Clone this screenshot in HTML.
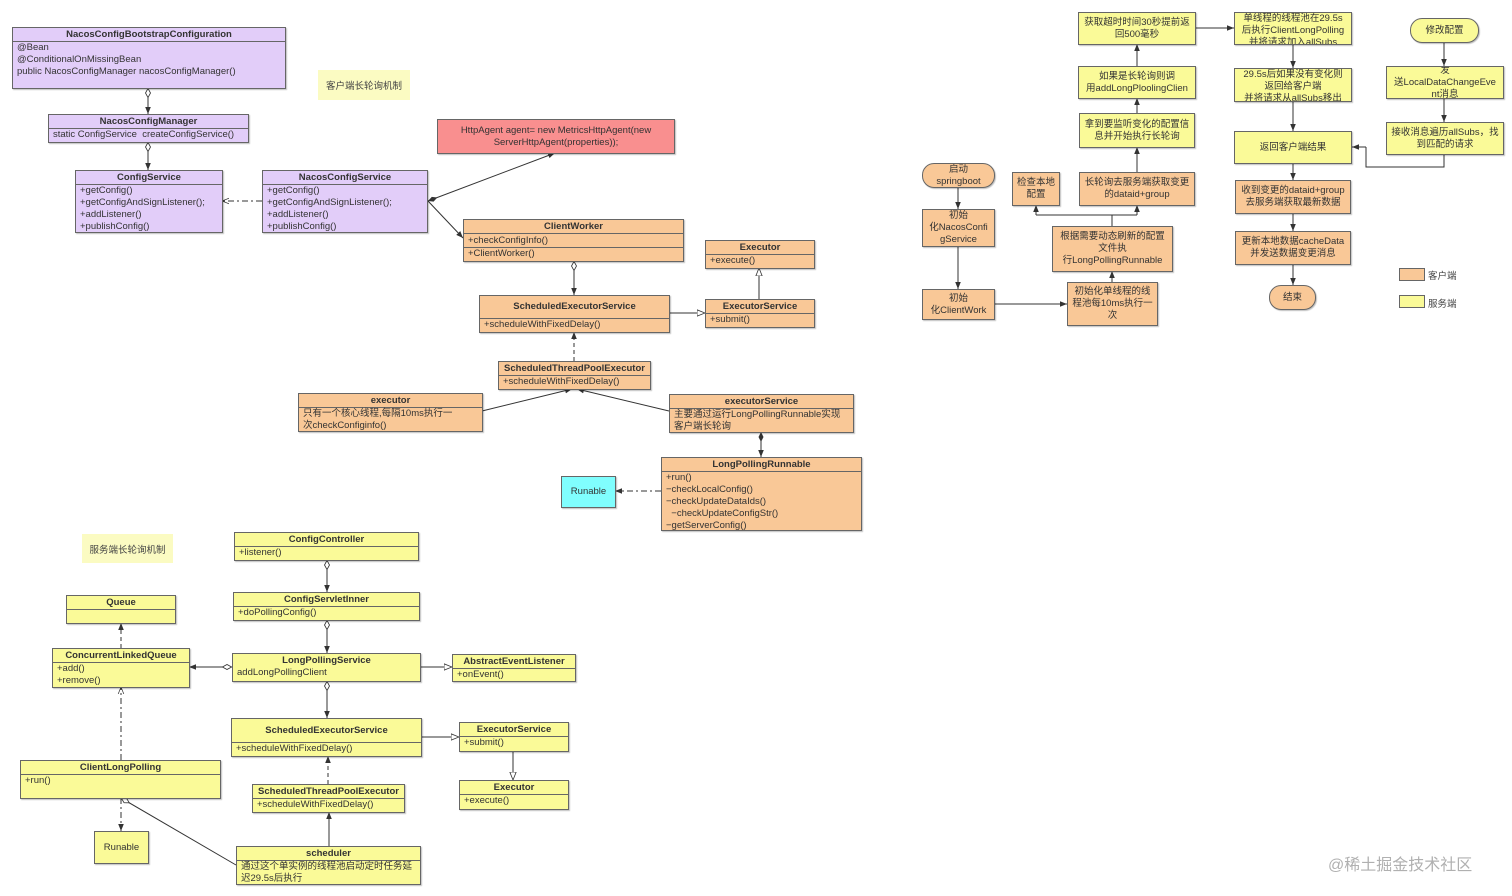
<!DOCTYPE html>
<html><head><meta charset="utf-8"><style>
body{margin:0;width:1512px;height:896px;background:#fff;position:relative;overflow:hidden;font-family:"Liberation Sans","Noto Sans CJK SC",sans-serif}
.b{position:absolute;border:1px solid #666;box-sizing:border-box;font-size:9.5px;color:#333;overflow:hidden;box-shadow:1px 1px 1px rgba(0,0,0,.25)}
.h{text-align:center;font-weight:bold;border-bottom:1px solid #666;height:13px;line-height:13px;white-space:nowrap}
.r{padding-left:4px;line-height:12px;white-space:nowrap}
.p{background:#e2cdf9}.o{background:#f9c897}.y{background:#fafa98}
.f{position:absolute;border:1px solid #666;box-sizing:border-box;font-size:9.5px;color:#333;display:flex;align-items:center;justify-content:center;text-align:center;line-height:12px;overflow:hidden;box-shadow:1px 1px 1px rgba(0,0,0,.25)}
.rd{border-radius:12px}
.note{position:absolute;background:#fbfbc2;font-size:9.5px;color:#444;display:flex;align-items:center;justify-content:center}
svg{position:absolute;left:0;top:0}
</style></head><body>
<svg width="1512" height="896">
<defs>
<marker id="a" viewBox="0 0 10 10" refX="10" refY="5" markerWidth="7" markerHeight="7" orient="auto-start-reverse"><path d="M0,1L10,5L0,9z" fill="#333"/></marker>
<marker id="t" viewBox="0 0 10 10" refX="10" refY="5" markerWidth="8" markerHeight="8" orient="auto-start-reverse"><path d="M0,1L10,5L0,9z" fill="#fff" stroke="#333"/></marker>
<marker id="od" viewBox="0 0 12 8" refX="12" refY="4" markerWidth="10" markerHeight="7" orient="auto-start-reverse" markerUnits="userSpaceOnUse"><path d="M0.5,4L6,1L11.5,4L6,7z" fill="#fff" stroke="#333"/></marker>
<marker id="fd" viewBox="0 0 12 8" refX="12" refY="4" markerWidth="10" markerHeight="7" orient="auto-start-reverse" markerUnits="userSpaceOnUse"><path d="M0,4L6,1L12,4L6,7z" fill="#333"/></marker>
<marker id="oa" viewBox="0 0 10 10" refX="10" refY="5" markerWidth="7" markerHeight="7" orient="auto-start-reverse"><path d="M0,1L10,5L0,9" fill="none" stroke="#333"/></marker>
</defs>
<g stroke="#333" stroke-width="1" fill="none">
<line x1="148" y1="88" x2="148" y2="114" marker-start="url(#od)" marker-end="url(#a)"/>
<line x1="148" y1="142" x2="148" y2="170" marker-start="url(#od)" marker-end="url(#a)"/>
<line x1="262" y1="201" x2="222" y2="201" stroke-dasharray="6,3,2,3" marker-end="url(#oa)"/>
<line x1="428" y1="201" x2="555" y2="153" marker-start="url(#fd)" marker-end="url(#a)"/>
<line x1="428" y1="201" x2="463" y2="238" marker-end="url(#a)"/>
<line x1="574" y1="261" x2="574" y2="295" marker-start="url(#od)" marker-end="url(#a)"/>
<line x1="669" y1="313" x2="705" y2="313" marker-end="url(#t)"/>
<line x1="759" y1="299" x2="759" y2="268" marker-end="url(#t)"/>
<line x1="574" y1="361" x2="574" y2="332" stroke-dasharray="4,3" marker-end="url(#a)"/>
<line x1="482" y1="411" x2="572" y2="389" marker-end="url(#a)"/>
<line x1="669" y1="411" x2="577" y2="389" marker-end="url(#a)"/>
<line x1="761" y1="432" x2="761" y2="457" marker-start="url(#fd)" marker-end="url(#a)"/>
<line x1="661" y1="491" x2="615" y2="491" stroke-dasharray="6,3,2,3" marker-end="url(#a)"/>
<line x1="327" y1="560" x2="327" y2="592" marker-start="url(#od)" marker-end="url(#a)"/>
<line x1="327" y1="620" x2="327" y2="653" marker-start="url(#od)" marker-end="url(#a)"/>
<line x1="232" y1="667" x2="189" y2="667" marker-start="url(#od)" marker-end="url(#a)"/>
<line x1="420" y1="667" x2="452" y2="667" marker-end="url(#t)"/>
<line x1="327" y1="681" x2="327" y2="718" marker-start="url(#od)" marker-end="url(#a)"/>
<line x1="421" y1="737" x2="459" y2="737" marker-end="url(#t)"/>
<line x1="513" y1="751" x2="513" y2="780" marker-end="url(#t)"/>
<line x1="328" y1="784" x2="328" y2="756" stroke-dasharray="4,3" marker-end="url(#a)"/>
<line x1="329" y1="846" x2="329" y2="812" marker-end="url(#a)"/>
<line x1="121" y1="648" x2="121" y2="623" stroke-dasharray="4,3" marker-end="url(#a)"/>
<line x1="121" y1="760" x2="121" y2="687" stroke-dasharray="6,3,2,3" marker-end="url(#oa)"/>
<line x1="121" y1="798" x2="121" y2="831" stroke-dasharray="6,3,2,3" marker-end="url(#a)"/>
<line x1="236" y1="865" x2="121" y2="798" marker-end="url(#od)"/>
<line x1="958" y1="187" x2="958" y2="209" marker-end="url(#a)"/>
<line x1="958" y1="246" x2="958" y2="289" marker-end="url(#a)"/>
<line x1="995" y1="304" x2="1067" y2="304" marker-end="url(#a)"/>
<line x1="1112" y1="282" x2="1112" y2="271" marker-end="url(#a)"/>
<polyline points="1112,226 1112,215"/>
<polyline points="1036,215 1137,215"/>
<line x1="1036" y1="215" x2="1036" y2="205" marker-end="url(#a)"/>
<line x1="1137" y1="215" x2="1137" y2="205" marker-end="url(#a)"/>
<line x1="1137" y1="172" x2="1137" y2="147" marker-end="url(#a)"/>
<line x1="1137" y1="113" x2="1137" y2="98" marker-end="url(#a)"/>
<line x1="1137" y1="66" x2="1137" y2="44" marker-end="url(#a)"/>
<line x1="1196" y1="28" x2="1234" y2="28" marker-end="url(#a)"/>
<line x1="1293" y1="44" x2="1293" y2="68" marker-end="url(#a)"/>
<line x1="1293" y1="101" x2="1293" y2="131" marker-end="url(#a)"/>
<line x1="1293" y1="163" x2="1293" y2="180" marker-end="url(#a)"/>
<line x1="1293" y1="213" x2="1293" y2="231" marker-end="url(#a)"/>
<line x1="1293" y1="264" x2="1293" y2="285" marker-end="url(#a)"/>
<line x1="1444" y1="42" x2="1444" y2="66" marker-end="url(#a)"/>
<line x1="1444" y1="98" x2="1444" y2="122" marker-end="url(#a)"/>
<polyline points="1444,154 1444,167 1366,167 1366,147" />
<line x1="1366" y1="147" x2="1352" y2="147" marker-end="url(#a)"/>
</g>
</svg>

<div class="b p" style="left:12px;top:27px;width:274px;height:62px"><div class="h">NacosConfigBootstrapConfiguration</div><div class="r">@Bean</div><div class="r">@ConditionalOnMissingBean</div><div class="r">public NacosConfigManager nacosConfigManager()</div></div>
<div class="note" style="left:318px;top:70px;width:92px;height:30px">客户端长轮询机制</div>
<div class="b p" style="left:48px;top:114px;width:201px;height:29px"><div class="h">NacosConfigManager</div><div class="r">static ConfigService &nbsp;createConfigService()</div></div>
<div class="b p" style="left:75px;top:170px;width:148px;height:63px"><div class="h">ConfigService</div><div class="r">+getConfig()</div><div class="r">+getConfigAndSignListener();</div><div class="r">+addListener()</div><div class="r">+publishConfig()</div></div>
<div class="b p" style="left:262px;top:170px;width:166px;height:63px"><div class="h">NacosConfigService</div><div class="r">+getConfig()</div><div class="r">+getConfigAndSignListener();</div><div class="r">+addListener()</div><div class="r">+publishConfig()</div></div>
<div class="f" style="left:437px;top:119px;width:238px;height:35px;background:#f98f8f">HttpAgent agent= new MetricsHttpAgent(new<br>ServerHttpAgent(properties));</div>
<div class="b o" style="left:463px;top:219px;width:221px;height:43px"><div class="h">ClientWorker</div><div class="r" style="height:13px;line-height:13px;border-bottom:1px solid #666">+checkConfigInfo()</div><div class="r">+ClientWorker()</div></div>
<div class="b o" style="left:705px;top:240px;width:110px;height:29px"><div class="h">Executor</div><div class="r">+execute()</div></div>
<div class="b o" style="left:479px;top:295px;width:191px;height:38px"><div class="h" style="height:22px;line-height:22px">ScheduledExecutorService</div><div class="r">+scheduleWithFixedDelay()</div></div>
<div class="b o" style="left:705px;top:299px;width:110px;height:29px"><div class="h">ExecutorService</div><div class="r">+submit()</div></div>
<div class="b o" style="left:498px;top:361px;width:153px;height:29px"><div class="h">ScheduledThreadPoolExecutor</div><div class="r">+scheduleWithFixedDelay()</div></div>
<div class="b o" style="left:298px;top:393px;width:185px;height:39px"><div class="h">executor</div><div class="r">只有一个核心线程,每隔10ms执行一</div><div class="r">次checkConfiginfo()</div></div>
<div class="b o" style="left:669px;top:394px;width:185px;height:39px"><div class="h">executorService</div><div class="r">主要通过运行LongPollingRunnable实现</div><div class="r">客户端长轮询</div></div>
<div class="b o" style="left:661px;top:457px;width:201px;height:74px"><div class="h">LongPollingRunnable</div><div class="r">+run()</div><div class="r">−checkLocalConfig()</div><div class="r">−checkUpdateDataIds()</div><div class="r">&nbsp;&nbsp;−checkUpdateConfigStr()</div><div class="r">−getServerConfig()</div></div>
<div class="f" style="left:561px;top:476px;width:55px;height:32px;background:#80fefe">Runable</div>

<div class="note" style="left:82px;top:534px;width:91px;height:29px">服务端长轮询机制</div>
<div class="b y" style="left:234px;top:532px;width:185px;height:29px"><div class="h">ConfigController</div><div class="r">+listener()</div></div>
<div class="b y" style="left:233px;top:592px;width:187px;height:29px"><div class="h">ConfigServletInner</div><div class="r">+doPollingConfig()</div></div>
<div class="b y" style="left:66px;top:595px;width:110px;height:29px"><div class="h">Queue</div></div>
<div class="b y" style="left:52px;top:648px;width:138px;height:40px"><div class="h">ConcurrentLinkedQueue</div><div class="r">+add()</div><div class="r">+remove()</div></div>
<div class="b y" style="left:232px;top:653px;width:189px;height:29px"><div class="h" style="border-bottom:none">LongPollingService</div><div class="r">addLongPollingClient</div></div>
<div class="b y" style="left:452px;top:654px;width:124px;height:28px"><div class="h">AbstractEventListener</div><div class="r">+onEvent()</div></div>
<div class="b y" style="left:231px;top:718px;width:191px;height:39px"><div class="h" style="height:23px;line-height:23px">ScheduledExecutorService</div><div class="r">+scheduleWithFixedDelay()</div></div>
<div class="b y" style="left:459px;top:722px;width:110px;height:30px"><div class="h">ExecutorService</div><div class="r">+submit()</div></div>
<div class="b y" style="left:459px;top:780px;width:110px;height:30px"><div class="h">Executor</div><div class="r">+execute()</div></div>
<div class="b y" style="left:20px;top:760px;width:201px;height:39px"><div class="h">ClientLongPolling</div><div class="r">+run()</div></div>
<div class="b y" style="left:252px;top:784px;width:153px;height:29px"><div class="h">ScheduledThreadPoolExecutor</div><div class="r">+scheduleWithFixedDelay()</div></div>
<div class="f y" style="left:94px;top:831px;width:55px;height:33px">Runable</div>
<div class="b y" style="left:236px;top:846px;width:185px;height:39px"><div class="h">scheduler</div><div class="r">通过这个单实例的线程池启动定时任务延</div><div class="r">迟29.5s后执行</div></div>

<div class="f y" style="left:1078px;top:12px;width:118px;height:33px">获取超时时间30秒提前返<br>回500毫秒</div>
<div class="f y" style="left:1234px;top:12px;width:118px;height:33px;align-items:flex-start">单线程的线程池在29.5s<br>后执行ClientLongPolling<br>并将请求加入allSubs</div>
<div class="f y rd" style="left:1410px;top:18px;width:69px;height:25px">修改配置</div>
<div class="f y" style="left:1078px;top:66px;width:118px;height:33px">如果是长轮询则调<br>用addLongPloolingClien</div>
<div class="f y" style="left:1234px;top:68px;width:118px;height:34px;align-items:flex-start">29.5s后如果没有变化则<br>返回给客户端<br>并将请求从allSubs移出</div>
<div class="f y" style="left:1386px;top:66px;width:118px;height:33px">发<br>送LocalDataChangeEve<br>nt消息</div>
<div class="f y" style="left:1079px;top:113px;width:116px;height:35px">拿到要监听变化的配置信<br>息并开始执行长轮询</div>
<div class="f y" style="left:1234px;top:131px;width:118px;height:33px">返回客户端结果</div>
<div class="f y" style="left:1386px;top:122px;width:118px;height:33px">接收消息遍历allSubs，找<br>到匹配的请求</div>
<div class="f o rd" style="left:922px;top:163px;width:73px;height:25px">启动<br>springboot</div>
<div class="f o" style="left:1012px;top:172px;width:48px;height:34px">检查本地<br>配置</div>
<div class="f o" style="left:1079px;top:172px;width:116px;height:34px">长轮询去服务端获取变更<br>的dataid+group</div>
<div class="f o" style="left:1235px;top:180px;width:116px;height:34px">收到变更的dataid+group<br>去服务端获取最新数据</div>
<div class="f o" style="left:922px;top:209px;width:73px;height:38px">初始<br>化NacosConfi<br>gService</div>
<div class="f o" style="left:1052px;top:226px;width:121px;height:46px">根据需要动态刷新的配置<br>文件执<br>行LongPollingRunnable</div>
<div class="f o" style="left:1235px;top:231px;width:116px;height:34px">更新本地数据cacheData<br>并发送数据变更消息</div>
<div class="f o" style="left:922px;top:289px;width:73px;height:31px">初始<br>化ClientWork</div>
<div class="f o" style="left:1067px;top:282px;width:91px;height:44px">初始化单线程的线<br>程池每10ms执行一<br>次</div>
<div class="f o rd" style="left:1269px;top:285px;width:47px;height:25px">结束</div>
<div class="f o" style="left:1399px;top:268px;width:26px;height:13px;box-shadow:none"></div>
<div style="position:absolute;left:1428px;top:268px;font-size:9.5px;color:#444">客户端</div>
<div class="f y" style="left:1399px;top:295px;width:26px;height:13px;box-shadow:none"></div>
<div style="position:absolute;left:1428px;top:296px;font-size:9.5px;color:#444">服务端</div>

<div style="position:absolute;left:1328px;top:851px;font-size:16px;color:#b0b0b0">@稀土掘金技术社区</div>
</body></html>
